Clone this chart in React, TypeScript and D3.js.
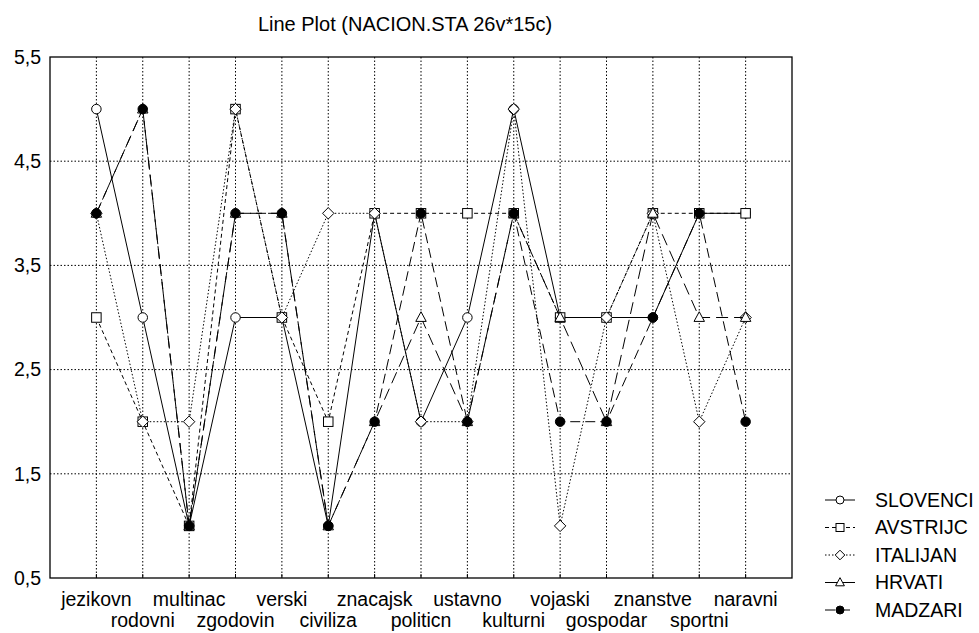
import React from 'react';
import * as d3 from 'd3';

const categories = [
  'jezikovn', 'rodovni', 'multinac', 'zgodovin', 'verski', 'civiliza', 'znacajsk',
  'politicn', 'ustavno', 'kulturni', 'vojaski', 'gospodar', 'znanstve', 'sportni', 'naravni',
];
const seriesNames = ['SLOVENCI', 'AVSTRIJC', 'ITALIJAN', 'HRVATI', 'MADZARI'];
const slovenci = [5, 3, 1, 3, 3, 1, 4, 2, 3, 5, 3, 3, 3, 4, 4];
const avstrijc = [3, 2, 1, 5, 3, 2, 4, 4, 4, 4, 3, 3, 4, 4, 4];
const italijan = [4, 2, 2, 5, 3, 4, 4, 2, 2, 5, 1, 3, 4, 2, 3];
const hrvati = [4, 5, 1, 4, 4, 1, 2, 3, 2, 4, 3, 2, 4, 3, 3];
const madzari = [4, 5, 1, 4, 4, 1, 2, 4, 2, 4, 2, 2, 3, 4, 2];
const yTicks = [0.5, 1.5, 2.5, 3.5, 4.5, 5.5];
const title = 'Line Plot (NACION.STA 26v*15c)';

const seriesValues = [slovenci, avstrijc, italijan, hrvati, madzari];
const styles = [
  { dash: undefined as string | undefined, shape: 'circle', fill: '#fff' },
  { dash: '4,3', shape: 'square', fill: '#fff' },
  { dash: '1.5,2', shape: 'diamond', fill: '#fff' },
  { dash: '12,6', shape: 'triangle', fill: '#fff' },
  { dash: '10,5', shape: 'circle', fill: '#000' },
];

const W = 979, H = 633;
const L = 50, R = 792, T = 57, B = 578;
const FONT = '"Liberation Sans", Arial, sans-serif';

function Marker({ shape, cx, cy, s, fill }: { shape: string; cx: number; cy: number; s: number; fill: string }) {
  const common = { fill, stroke: '#000', strokeWidth: 1 };
  if (shape === 'circle') return <circle cx={cx} cy={cy} r={s / 2} {...common} />;
  if (shape === 'square') return <rect x={cx - s / 2} y={cy - s / 2} width={s} height={s} {...common} />;
  if (shape === 'diamond') {
    const h = s * 0.6;
    return <path d={`M${cx},${cy - h}L${cx + h},${cy}L${cx},${cy + h}L${cx - h},${cy}Z`} {...common} />;
  }
  const h = s * 0.55;
  return <path d={`M${cx},${cy - h * 1.1}L${cx + h},${cy + h * 0.75}L${cx - h},${cy + h * 0.75}Z`} {...common} />;
}

export default function App() {
  const x = d3.scaleLinear().domain([0, 16]).range([L, R]);
  const y = d3.scaleLinear().domain([0.5, 5.5]).range([B, T]);
  const line = d3.line<number>().x((_, i) => x(i + 1)).y((d) => y(d));
  const legendY = d3.scalePoint<string>().domain(seriesNames).range([500, 610]);

  return (
    <svg width={W} height={H} style={{ position: 'absolute', left: 0, top: 0, background: '#fff' }}>
      <rect x={0} y={0} width={W} height={H} fill="#fff" />
      <text x={405} y={31} textAnchor="middle" fontFamily={FONT} fontSize={20}>{title}</text>
      {/* grid */}
      {categories.map((c, i) => (
        <line key={'vg' + c} x1={x(i + 1)} x2={x(i + 1)} y1={T} y2={B} stroke="#000" strokeWidth={1} strokeDasharray="1.5,2" />
      ))}
      {yTicks.slice(1, -1).map((t) => (
        <line key={'hg' + t} x1={L} x2={R} y1={y(t)} y2={y(t)} stroke="#000" strokeWidth={1} strokeDasharray="1.5,2" />
      ))}
      <rect x={L} y={T} width={R - L} height={B - T} fill="none" stroke="#000" strokeWidth={1.3} />
      {categories.map((c, i) => (
        <line key={'tk' + c} x1={x(i + 1)} x2={x(i + 1)} y1={B} y2={B - 4} stroke="#000" strokeWidth={1} />
      ))}
      {/* y labels */}
      {yTicks.map((t) => (
        <text key={'yl' + t} x={41} y={y(t)} dy="0.35em" textAnchor="end" fontFamily={FONT} fontSize={19.5}>
          {d3.format('.1f')(t).replace('.', ',')}
        </text>
      ))}
      {/* x labels */}
      {categories.map((c, i) => (
        <text key={'xl' + c} x={x(i + 1)} y={i % 2 === 0 ? 606 : 627} textAnchor="middle" fontFamily={FONT} fontSize={19.5}>
          {c}
        </text>
      ))}
      {/* series */}
      {seriesValues.map((vals, si) => (
        <g key={'s' + si}>
          <path d={line(vals) || ''} fill="none" stroke="#000" strokeWidth={1} strokeDasharray={styles[si].dash} />
          {vals.map((v, i) => (
            <Marker key={i} shape={styles[si].shape} cx={x(i + 1)} cy={y(v)} s={9.5} fill={styles[si].fill} />
          ))}
        </g>
      ))}
      {/* legend */}
      {seriesNames.map((n, si) => {
        const ly = legendY(n) as number;
        return (
          <g key={'lg' + n}>
            <line x1={825} x2={855} y1={ly} y2={ly} stroke="#000" strokeWidth={1} strokeDasharray={styles[si].dash} />
            <Marker shape={styles[si].shape} cx={840} cy={ly} s={8} fill={styles[si].fill} />
            <text x={875} y={ly} dy="0.35em" fontFamily={FONT} fontSize={19.5}>{n}</text>
          </g>
        );
      })}
    </svg>
  );
}
